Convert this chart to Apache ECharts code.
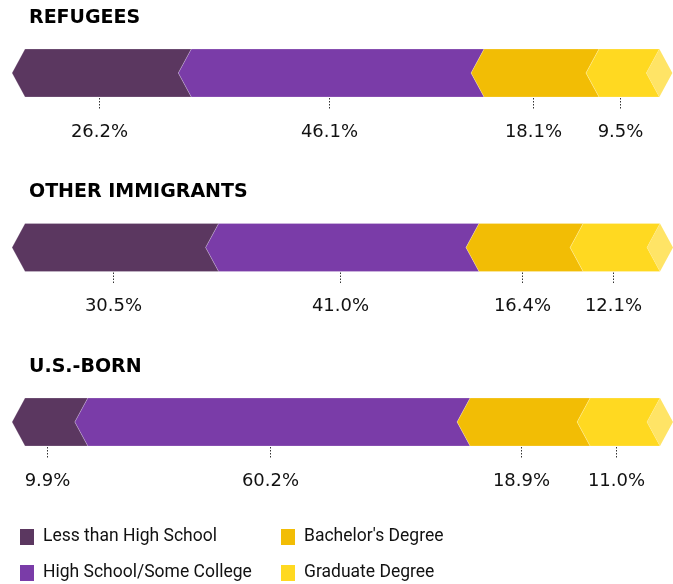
<!DOCTYPE html>
<html>
<head>
<meta charset="utf-8">
<script src="https://cdn.jsdelivr.net/npm/echarts@6/dist/echarts.min.js"></script>
<style>
  html, body { margin: 0; padding: 0; background: #fff; }
  #chart { width: 673px; height: 584px; }
</style>
</head>
<body>
<div id="chart"></div>
<script>
// groups (rows) and the share of each education level, in %
const groups = ["REFUGEES", "OTHER IMMIGRANTS", "U.S.-BORN"];
const levels = ["Less than High School", "High School/Some College", "Bachelor's Degree", "Graduate Degree"];
const lessHS = [26.2, 30.5, 9.9];
const hsSomeCollege = [46.1, 41.0, 60.2];
const bachelor = [18.1, 16.4, 18.9];
const graduate = [9.5, 12.1, 11.0];

const values = [lessHS, hsSomeCollege, bachelor, graduate];
const colors = ["#5b3760", "#7a3ca8", "#f2bd05", "#ffd921"];
const tipColor = "#ffe466";

const barH = 48;
const notch = 13;

function makeRender(k) {
  return function (params, api) {
    const i = api.value(1);
    let start = 0;
    for (let j = 0; j < k; j++) start += values[j][i];
    const end = start + api.value(0);
    const p0 = api.coord([start, i]);
    const p1 = api.coord([end, i]);
    const mid = p0[1];
    const top = mid - barH / 2;
    const bot = mid + barH / 2;
    const x0 = p0[0];
    const x1 = p1[0];
    const cx = Math.round((x0 + x1) / 2 - 9) + 0.5;

    const children = [
      {
        type: "polygon",
        shape: {
          points: [[x0, top], [x0 - notch, mid], [x0, bot], [x1, bot], [x1 - notch, mid], [x1, top]],
        },
        style: { fill: colors[k], stroke: "rgba(255,255,255,0.35)", lineWidth: 0.6 },
      },
      {
        type: "line",
        shape: { x1: cx, y1: bot + 1, x2: cx, y2: bot + 13 },
        style: { stroke: "#333", lineWidth: 1, lineDash: [1.5, 1.5] },
      },
      {
        type: "text",
        style: {
          x: cx,
          y: bot + 35,
          text: api.value(0).toFixed(1) + "%",
          align: "center",
          verticalAlign: "middle",
          fill: "#111",
          fontSize: 18,
          fontFamily: "'DejaVu Sans', sans-serif",
        },
      },
    ];

    if (k === values.length - 1) {
      // small lighter arrow tip at the end of the bar
      children.push({
        type: "polygon",
        shape: { points: [[x1, top], [x1 + notch, mid], [x1, bot], [x1 - notch, mid]] },
        style: { fill: tipColor },
      });
    }
    if (k === 0) {
      children.push({
        type: "text",
        style: {
          x: x0 + 4,
          y: top - 31,
          text: groups[i],
          align: "left",
          verticalAlign: "middle",
          fill: "#000",
          fontSize: 19,
          fontWeight: "bold",
          fontFamily: "'DejaVu Sans', sans-serif",
        },
      });
    }
    return { type: "group", children: children };
  };
}

const chart = echarts.init(document.getElementById("chart"), null, { renderer: "canvas" });

const legendBase = {
  orient: "vertical",
  top: 528,
  padding: 0,
  icon: "rect",
  itemWidth: 14,
  itemHeight: 16,
  itemGap: 18,
  selectedMode: false,
  textStyle: { fontSize: 17.5, lineHeight: 16, color: "#111", fontFamily: "Roboto, sans-serif", padding: [0, 0, 0, 4] },
};

const option = {
  animation: false,
  grid: { left: 25, right: 13, top: 73, bottom: 162 },
  xAxis: { type: "value", min: 0, max: 100, show: false },
  yAxis: { type: "category", data: groups, inverse: true, boundaryGap: false, show: false },
  legend: [
    Object.assign({}, legendBase, { left: 20, data: [levels[0], levels[1]] }),
    Object.assign({}, legendBase, { left: 281, data: [levels[2], levels[3]] }),
  ],
  series: values.map((arr, k) => ({
    name: levels[k],
    type: "custom",
    silent: true,
    clip: false,
    itemStyle: { color: colors[k] },
    renderItem: makeRender(k),
    encode: { x: 0, y: 1 },
    data: arr.map((v, i) => [v, i]),
  })),
};

chart.setOption(option);
</script>
</body>
</html>
